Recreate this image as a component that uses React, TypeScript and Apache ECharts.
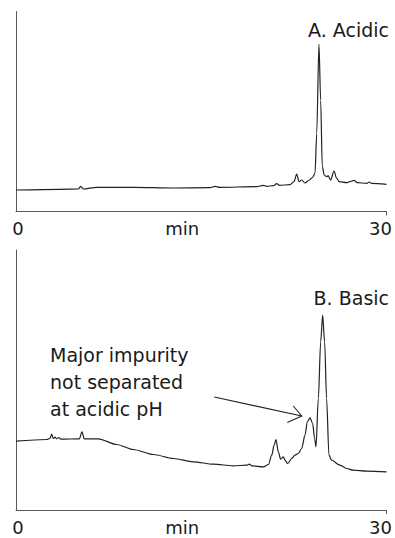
import React, { useEffect, useRef } from "react";
import * as echarts from "echarts";

// Acidic run: [time (min), detector response]
const acidicTime = [0, 3.56, 5.05, 5.24, 5.45, 6.53, 9.5, 12.74, 15.71, 16.11, 16.5, 19.49, 20.03, 20.3, 20.84, 21.11, 21.33, 22.19, 22.51, 22.73, 22.92, 23.13, 23.4, 23.75, 24.02, 24.21, 24.35, 24.53, 24.67, 24.8, 24.96, 25.15, 25.28, 25.47, 25.75, 25.96, 26.18, 26.77, 27.04, 27.37, 27.64, 28.4, 28.6, 28.8, 30];
const acidicSignal = [21.5, 22.2, 22.5, 25.2, 22.5, 24.2, 24.2, 23.5, 23.8, 25.2, 24.2, 24.8, 26.2, 25.2, 25.8, 27.8, 26.2, 26.8, 29.8, 37.5, 29.8, 31.5, 28.5, 31.5, 34.2, 38.2, 78, 167.5, 111, 44.8, 36.5, 34.8, 35.8, 31.5, 40.5, 33.2, 29.8, 28.8, 29.8, 31.2, 28.8, 28.2, 29.5, 28.2, 27.2];

// Basic run
const basicTime = [0, 2.49, 2.75, 2.89, 3.02, 3.16, 3.29, 3.46, 3.62, 5.13, 5.34, 5.53, 6.66, 8.15, 9.5, 11.12, 12.74, 14.36, 15.98, 17.6, 18.68, 18.9, 19.09, 20.03, 20.44, 20.71, 20.9, 21.05, 21.24, 21.43, 21.65, 21.78, 22, 22.32, 22.59, 22.86, 23.13, 23.4, 23.59, 23.81, 24.02, 24.18, 24.29, 24.48, 24.67, 24.83, 24.99, 25.15, 25.34, 25.56, 26.23, 26.77, 27.31, 28.39, 30];
const basicSignal = [68.8, 70.5, 71.5, 75.8, 71.5, 72.8, 71.2, 72.5, 70.8, 71.2, 78.2, 71.2, 71.2, 65.5, 60.5, 55.5, 51.5, 48.2, 45.8, 44.2, 44.8, 45.8, 44.2, 43.2, 45.5, 54.8, 64.8, 70.5, 58.2, 50.8, 53.2, 49.8, 46.5, 51.5, 54.8, 56.5, 61.5, 74.8, 88.2, 92.2, 86.5, 71.5, 63.2, 111.5, 168.2, 194.8, 168.2, 111.5, 54.8, 49.8, 44.8, 41.5, 39.8, 38.8, 38.2];

const xTickLabels = [0, 30];
const xName = "min";
const panelTitles = ["A. Acidic", "B. Basic"];
const noteLines = ["Major impurity", "not separated", "at acidic pH"];

const FONT = "DejaVu Sans";
const TEXT = "#1a1a1a";
const AXIS = "#5a5a5a";
const LINE = "#222222";

function zip(xs: number[], ys: number[]) {
  return xs.map((x, i) => [x, ys[i]]);
}

function makeX(gridIndex: number) {
  return {
    type: "value",
    gridIndex,
    min: 0,
    max: 30,
    interval: 30,
    splitLine: { show: false },
    axisLine: { show: true, lineStyle: { color: AXIS, width: 1 } },
    axisTick: { show: true, customValues: [30], length: 4, lineStyle: { color: AXIS } },
    axisLabel: {
      show: true,
      customValues: xTickLabels,
      margin: 9,
      hideOverlap: false,
      color: TEXT,
      fontFamily: FONT,
      fontSize: 18,
      lineHeight: 16,
      formatter: (v: number) => (v === 30 ? "{r|" + v + "}" : "{l|" + v + "}"),
      rich: {
        r: { padding: [0, 12, 0, 0], fontFamily: FONT, fontSize: 18, color: TEXT, lineHeight: 16 },
        l: { padding: [0, 0, 0, 4], fontFamily: FONT, fontSize: 18, color: TEXT, lineHeight: 16 },
      },
    },
    name: xName,
    nameLocation: "middle",
    nameGap: 9,
    nameMoveOverlap: false,
    nameTextStyle: {
      color: TEXT,
      fontFamily: FONT,
      fontSize: 18,
      lineHeight: 16,
      verticalAlign: "top",
      padding: [0, 38, 0, 0],
    },
  };
}

function makeY(gridIndex: number, max: number) {
  return {
    type: "value",
    gridIndex,
    min: 0,
    max,
    splitLine: { show: false },
    axisLine: { show: true, lineStyle: { color: AXIS, width: 1 } },
    axisTick: { show: false },
    axisLabel: { show: false },
  };
}

export default function App() {
  const ref = useRef<HTMLDivElement>(null);

  useEffect(() => {
    if (!ref.current) return;
    const chart = echarts.init(ref.current, undefined, { renderer: "svg" });
    const textStyle = { fill: TEXT, fontFamily: FONT, fontSize: 19 };
    chart.setOption({
      animation: false,
      backgroundColor: "#ffffff",
      grid: [
        { left: 16, right: 8.5, top: 11.5, height: 200, containLabel: false, outerBoundsMode: "none" },
        { left: 16, right: 8.5, top: 250, height: 260, containLabel: false, outerBoundsMode: "none" },
      ],
      xAxis: [makeX(0), makeX(1)],
      yAxis: [makeY(0, 200), makeY(1, 260)],
      series: [
        {
          type: "line",
          xAxisIndex: 0,
          yAxisIndex: 0,
          data: zip(acidicTime, acidicSignal),
          showSymbol: false,
          smooth: 0.3,
          smoothMonotone: "x",
          lineStyle: { color: LINE, width: 1.2 },
        },
        {
          type: "line",
          xAxisIndex: 1,
          yAxisIndex: 1,
          data: zip(basicTime, basicSignal),
          showSymbol: false,
          smooth: 0.3,
          smoothMonotone: "x",
          lineStyle: { color: LINE, width: 1.2 },
        },
      ],
      graphic: [
        {
          type: "text",
          right: 6,
          top: 20,
          style: { ...textStyle, text: panelTitles[0] },
        },
        {
          type: "text",
          right: 6,
          top: 288,
          style: { ...textStyle, text: panelTitles[1] },
        },
        {
          type: "text",
          left: 50,
          top: 342,
          style: { ...textStyle, text: noteLines.join("\n"), lineHeight: 26.7 },
        },
        {
          type: "line",
          shape: { x1: 214.3, y1: 397, x2: 301.7, y2: 416 },
          style: { stroke: LINE, lineWidth: 1.1 },
        },
        {
          type: "polyline",
          shape: { points: [[287.3, 422.6], [301.7, 416], [293.3, 406]] },
          style: { stroke: LINE, lineWidth: 1.1, fill: "none" },
        },
      ],
    });
    return () => chart.dispose();
  }, []);

  return (
    <div
      ref={ref}
      style={{ position: "fixed", left: 0, top: 0, width: 395, height: 538, background: "#fff" }}
    />
  );
}
